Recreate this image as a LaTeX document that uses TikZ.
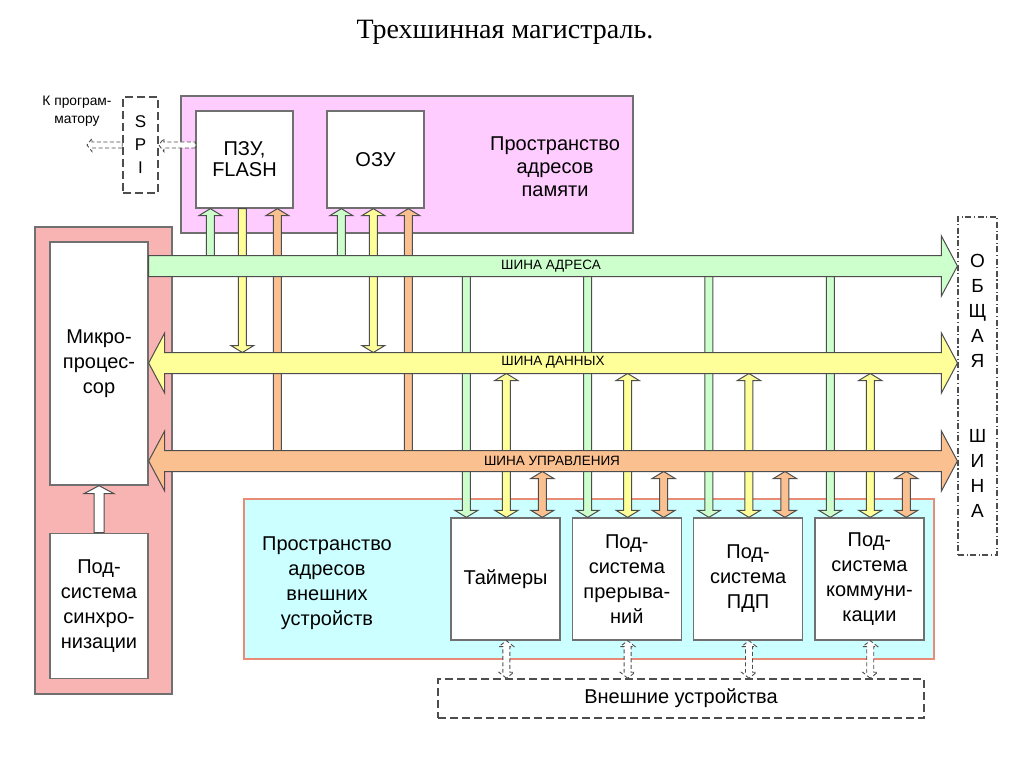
\documentclass[tikz,border=0pt]{standalone}
\usepackage{fontspec}
\setmainfont{Liberation Sans}
\newfontfamily\titlefont{Liberation Serif}
\usetikzlibrary{calc,positioning}

\definecolor{memfill}{HTML}{FFCCFF}
\definecolor{cpufill}{HTML}{F8B3B3}
\definecolor{devfill}{HTML}{CCFFFF}
\definecolor{devline}{HTML}{E98C76}
\definecolor{adrcol}{HTML}{CCFFCC}
\definecolor{datcol}{HTML}{FFFF99}
\definecolor{ctlcol}{HTML}{FBC090}
\definecolor{edge}{HTML}{4D4D4D}
\definecolor{framecol}{HTML}{707070}

\newcommand\bigtxt{\fontsize{20pt}{25pt}\selectfont}

% block arrows: shaft half width, head half width, head length
\newcommand\tapsize[3]{\def\tsw{#1}\def\thw{#2}\def\thl{#3}}
\newcommand\arrup[3]{\draw[#1] let \p1=#2, \p2=#3 in
  (\x1-\tsw,\y1) -- (\x1-\tsw,\y2-\thl) -- (\x1-\thw,\y2-\thl) -- (\x1,\y2)
  -- (\x1+\thw,\y2-\thl) -- (\x1+\tsw,\y2-\thl) -- (\x1+\tsw,\y1) -- cycle;}
\newcommand\arrdown[3]{\draw[#1] let \p1=#2, \p2=#3 in
  (\x1-\tsw,\y2) -- (\x1-\tsw,\y1+\thl) -- (\x1-\thw,\y1+\thl) -- (\x1,\y1)
  -- (\x1+\thw,\y1+\thl) -- (\x1+\tsw,\y1+\thl) -- (\x1+\tsw,\y2) -- cycle;}
\newcommand\arrboth[3]{\draw[#1] let \p1=#2, \p2=#3 in
  (\x1,\y1) -- (\x1-\thw,\y1+\thl) -- (\x1-\tsw,\y1+\thl) -- (\x1-\tsw,\y2-\thl)
  -- (\x1-\thw,\y2-\thl) -- (\x1,\y2) -- (\x1+\thw,\y2-\thl) -- (\x1+\tsw,\y2-\thl)
  -- (\x1+\tsw,\y1+\thl) -- (\x1+\thw,\y1+\thl) -- cycle;}
\newcommand\arrright[3]{\draw[#1] let \p1=#2, \p2=#3 in
  (\x1,\y1-\tsw) -- (\x2-\thl,\y1-\tsw) -- (\x2-\thl,\y1-\thw) -- (\x2,\y1)
  -- (\x2-\thl,\y1+\thw) -- (\x2-\thl,\y1+\tsw) -- (\x1,\y1+\tsw) -- cycle;}
\newcommand\arrleft[3]{\draw[#1] let \p1=#2, \p2=#3 in
  (\x2,\y1-\tsw) -- (\x1+\thl,\y1-\tsw) -- (\x1+\thl,\y1-\thw) -- (\x1,\y1)
  -- (\x1+\thl,\y1+\thw) -- (\x1+\thl,\y1+\tsw) -- (\x2,\y1+\tsw) -- cycle;}
\newcommand\arrlr[3]{\draw[#1] let \p1=#2, \p2=#3 in
  (\x1,\y1) -- (\x1+\thl,\y1+\thw) -- (\x1+\thl,\y1+\tsw) -- (\x2-\thl,\y1+\tsw)
  -- (\x2-\thl,\y1+\thw) -- (\x2,\y1) -- (\x2-\thl,\y1-\thw) -- (\x2-\thl,\y1-\tsw)
  -- (\x1+\thl,\y1-\tsw) -- (\x1+\thl,\y1-\thw) -- cycle;}

\tikzset{
  region/.style={draw=framecol, line width=1.3pt, inner sep=0pt},
  unit/.style={draw=framecol, fill=white, line width=1.3pt, align=center, font=\bigtxt},
  lbl/.style={align=center, font=\bigtxt},
  buslbl/.style={font=\fontsize{13.5pt}{15pt}\selectfont},
  adr/.style={draw=edge, fill=adrcol, line width=1pt},
  dat/.style={draw=edge, fill=datcol, line width=1pt},
  ctl/.style={draw=edge, fill=ctlcol, line width=1pt},
  hollow/.style={draw=edge, fill=white, line width=1pt},
  ghost/.style={draw=edge, fill=white, line width=0.9pt, dash pattern=on 4pt off 2.5pt},
  dashbox/.style={draw=edge, line width=1.6pt, dash pattern=on 8pt off 4pt}
}

\begin{document}
\begin{tikzpicture}[x=1pt,y=-1pt]
\useasboundingbox[fill=white] (0,0) rectangle (1024,767);

\node[font=\titlefont\fontsize{28pt}{30pt}\selectfont, anchor=base] (title) at (505,39) {Трехшинная магистраль.};

% bus levels
\coordinate (abus) at (0,266);
\coordinate (dbus) at (0,363);
\coordinate (cbus) at (0,461);
\coordinate (dtop) at (0,352.5);
\coordinate (dbot) at (0,373.5);
\coordinate (cbot) at (0,471.5);

% address spaces
\node[region, fill=memfill, minimum width=452pt, minimum height=137pt] (mem) at (407,164.5) {};
\node[region, fill=cpufill, minimum width=137pt, minimum height=467pt] (cpuspace) at (103.5,460.5) {};
\node[region, draw=devline, fill=devfill, minimum width=690pt, minimum height=160pt] (devspace) at (589,579) {};

\node[lbl, font=\fontsize{20pt}{23pt}\selectfont] (memlbl) at (555,167) {Пространство\\адресов\\памяти};
\node[lbl] (devlbl) at (327,583) {Пространство\\адресов\\внешних\\устройств};

\node[unit, minimum width=97pt, minimum height=97pt, font=\fontsize{20pt}{21pt}\selectfont] (rom) at (244.5,159.5) {ПЗУ,\\FLASH};
\node[unit, minimum width=97pt, minimum height=97pt] (ram) at (375.5,159.5) {ОЗУ};

\node[unit, minimum width=98pt, minimum height=243pt] (cpu) at (99,363.5) {Микро-\\процес-\\сор};
\node[unit, minimum width=98pt, minimum height=145pt, below=47pt of cpu] (sync) {Под-\\система\\синхро-\\низации};

\node[unit, minimum width=109pt, minimum height=122pt] (tmr) at (505.5,579) {Таймеры};
\node[unit, minimum width=109pt, minimum height=122pt, right=11pt of tmr] (irq) {Под-\\система\\прерыва-\\ний};
\node[unit, minimum width=109pt, minimum height=122pt, right=11pt of irq] (dma) {Под-\\система\\ПДП};
\node[unit, minimum width=109pt, minimum height=122pt, right=11pt of dma] (com) {Под-\\система\\коммуни-\\кации};

\node[dashbox, minimum width=486pt, minimum height=39pt, font=\bigtxt] (ext) at (681,698.5) {Внешние устройства};
\node[dashbox, line width=1.2pt, dash pattern=on 6pt off 2.5pt on 1.2pt off 2.5pt,
      minimum width=39pt, minimum height=338pt, align=center,
      font=\fontsize{19pt}{25pt}\selectfont] (gbus) at (977.5,386) {О\\Б\\Щ\\А\\Я\\[50pt]Ш\\И\\Н\\А};
\node[dashbox, minimum width=35pt, minimum height=96pt, align=center,
      font=\fontsize{17pt}{23pt}\selectfont] (spi) at (140.5,145) {S\\P\\I};
\node[align=center, font=\fontsize{13.8pt}{18pt}\selectfont] (prog) at (77,111) {К програм-\\матору};
\coordinate (toprog) at (87,145);

% taps of the memory
\tapsize{4pt}{11.5pt}{7pt}
\foreach \m in {rom,ram}{
  \coordinate (\m-g) at ($(\m.south west)+(15,0)$);
  \coordinate (\m-y) at ($(\m.south west)+(47,0)$);
  \coordinate (\m-o) at ($(\m.south west)+(82,0)$);
  \arrup{adr}{(\m-g |- abus)}{(\m-g)}
  \arrup{ctl}{(\m-o |- cbus)}{(\m-o)}
}
\arrdown{dat}{(rom-y |- dtop)}{(rom-y)}
\arrboth{dat}{(ram-y |- dtop)}{(ram-y)}

% taps of the devices
\foreach \dev in {tmr,irq,dma,com}{
  \coordinate (\dev-g) at ($(\dev.north west)+(16,0)$);
  \coordinate (\dev-y) at ($(\dev.north west)+(56,0)$);
  \coordinate (\dev-o) at ($(\dev.north west)+(92,0)$);
  \arrdown{adr}{(\dev-g)}{(\dev-g |- abus)}
  \arrboth{dat}{(\dev-y)}{(\dev-y |- dbot)}
  \arrboth{ctl}{(\dev-o)}{(\dev-o |- cbot)}
}

\tapsize{5pt}{15pt}{8pt}
\arrup{hollow}{(sync.north)}{(cpu.south)}

% the three buses
\tapsize{10.5pt}{30pt}{16pt}
\arrright{adr}{(cpu.east |- abus)}{(gbus.west |- abus)}
\arrlr{dat}{(cpu.east |- dbus)}{(gbus.west |- dbus)}
\arrlr{ctl}{(cpu.east |- cbus)}{(gbus.west |- cbus)}
\node[buslbl] (albl) at (551,266) {ШИНА АДРЕСА};
\node[buslbl] (dlbl) at (553,362) {ШИНА ДАННЫХ};
\node[buslbl] (clbl) at (552,461) {ШИНА УПРАВЛЕНИЯ};

% dashed links
\tapsize{3.5pt}{7.5pt}{6pt}
\foreach \dev in {tmr,irq,dma,com}
  \arrboth{ghost}{(\dev-y |- ext.north)}{(\dev-y |- \dev.south)};
\tapsize{3pt}{6.5pt}{5pt}
\arrleft{ghost}{(spi.east)}{(rom.west |- spi.east)}
\arrleft{ghost}{(toprog)}{(spi.west)}
\end{tikzpicture}
\end{document}
